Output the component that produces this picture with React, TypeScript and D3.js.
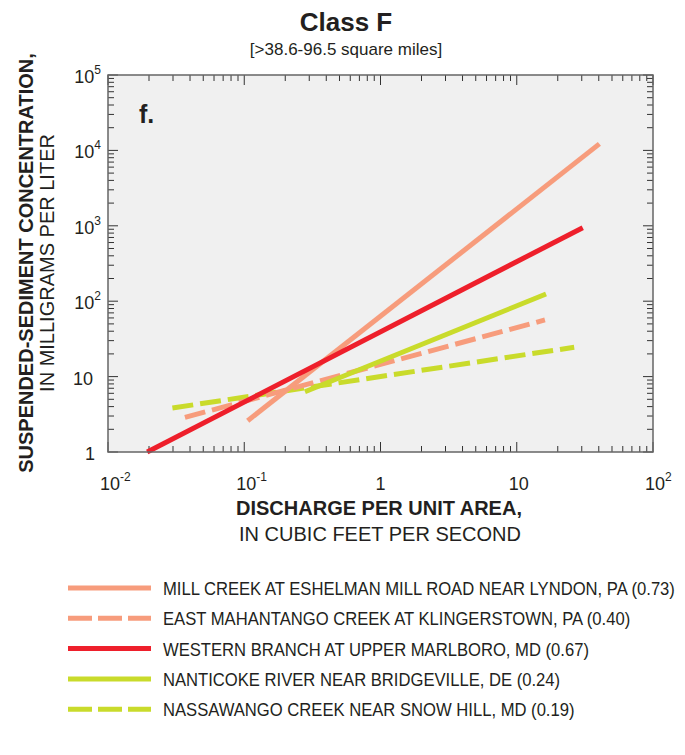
import React from "react";
import * as d3 from "d3";

const seriesNames = [
  "MILL CREEK AT ESHELMAN MILL ROAD NEAR LYNDON, PA (0.73)",
  "EAST MAHANTANGO CREEK AT KLINGERSTOWN, PA (0.40)",
  "WESTERN BRANCH AT UPPER MARLBORO, MD (0.67)",
  "NANTICOKE RIVER NEAR BRIDGEVILLE, DE (0.24)",
  "NASSAWANGO CREEK NEAR SNOW HILL, MD (0.19)",
];
const seriesColors = ["#F79C7C", "#F79C7C", "#EE1F2B", "#C9DB2B", "#C9DB2B"];
const seriesDashed = [false, true, false, false, true];
const xStart = [0.106, 0.0367, 0.0194, 0.279, 0.0297];
const xEnd = [40.4, 16.1, 30.5, 16.4, 26.4];
const yStart = [2.6, 2.88, 1.0, 6.3, 3.83];
const yEnd = [12200, 56.4, 944, 124.6, 24.5];
const plotOrder = [4, 1, 3, 0, 2];

const xDecades = [-2, -1, 0, 1, 2];
const yDecades = [0, 1, 2, 3, 4, 5];

const W = 685;
const H = 755;
const left = 108;
const right = 653;
const top = 75;
const bottom = 452;

const FONT = "'Liberation Sans', Arial, Helvetica, sans-serif";
const INK = "#231f20";

function YLabel({ exp, x, y }: { exp: number; x: number; y: number }) {
  if (exp === 0)
    return <text x={x - 6} y={y} textAnchor="end" fontSize={18} fontFamily={FONT}>1</text>;
  if (exp === 1)
    return <text x={x - 8} y={y} textAnchor="end" fontSize={18} fontFamily={FONT}>10</text>;
  return (
    <text x={x} y={y} textAnchor="end" fontSize={18} fontFamily={FONT}>
      10<tspan dy={-9} fontSize={12}>{exp}</tspan>
    </text>
  );
}

function XLabel({ exp, x, y }: { exp: number; x: number; y: number }) {
  if (exp === 0)
    return <text x={x} y={y} textAnchor="middle" fontSize={18} fontFamily={FONT}>1</text>;
  if (exp === 1)
    return <text x={x + 2} y={y} textAnchor="middle" fontSize={18} fontFamily={FONT}>10</text>;
  return (
    <text x={x - 8} y={y} textAnchor="start" fontSize={18} fontFamily={FONT}>
      10<tspan dy={-9} fontSize={12}>{exp}</tspan>
    </text>
  );
}

export default function App() {
  const x = d3.scaleLog().domain([0.01, 100]).range([left, right]);
  const y = d3.scaleLog().domain([1, 100000]).range([bottom, top]);
  const line = d3
    .line<[number, number]>()
    .x((d) => x(d[0]))
    .y((d) => y(d[1]));

  const xMinor: number[] = [];
  for (let e = -2; e < 2; e++) for (let m = 2; m <= 9; m++) xMinor.push(m * Math.pow(10, e));
  const yMinor: number[] = [];
  for (let e = 0; e < 5; e++) for (let m = 2; m <= 9; m++) yMinor.push(m * Math.pow(10, e));

  const tickColor = "#333";
  const major = 10;
  const minor = 6;

  return (
    <svg width={W} height={H} style={{ position: "absolute", left: 0, top: 0, background: "#fff" }}>
      <text x={346} y={31} textAnchor="middle" fontSize={26} fontWeight="bold" fontFamily={FONT} fill={INK}>
        Class F
      </text>
      <text x={346} y={55} textAnchor="middle" fontSize={17} fontFamily={FONT} fill={INK}>
        [&gt;38.6-96.5 square miles]
      </text>

      <rect x={left} y={top} width={right - left} height={bottom - top} fill="#F0F0F0" />

      <g stroke={tickColor} strokeWidth={1}>
        {xMinor.map((v, i) => (
          <g key={"xm" + i}>
            <line x1={x(v)} x2={x(v)} y1={bottom} y2={bottom - minor} />
            <line x1={x(v)} x2={x(v)} y1={top} y2={top + minor} />
          </g>
        ))}
        {xDecades.map((e) => (
          <g key={"xM" + e}>
            <line x1={x(Math.pow(10, e))} x2={x(Math.pow(10, e))} y1={bottom} y2={bottom - major} />
            <line x1={x(Math.pow(10, e))} x2={x(Math.pow(10, e))} y1={top} y2={top + major} />
          </g>
        ))}
        {yMinor.map((v, i) => (
          <g key={"ym" + i}>
            <line x1={left} x2={left + minor} y1={y(v)} y2={y(v)} />
            <line x1={right} x2={right - minor} y1={y(v)} y2={y(v)} />
          </g>
        ))}
        {yDecades.map((e) => (
          <g key={"yM" + e}>
            <line x1={left} x2={left + major} y1={y(Math.pow(10, e))} y2={y(Math.pow(10, e))} />
            <line x1={right} x2={right - major} y1={y(Math.pow(10, e))} y2={y(Math.pow(10, e))} />
          </g>
        ))}
      </g>

      <text x={139} y={123} fontSize={25} fontWeight="bold" fontFamily={FONT} fill={INK}>
        f.
      </text>

      {plotOrder.map((i) => (
        <path
          key={"s" + i}
          d={
            line([
              [xStart[i], yStart[i]],
              [xEnd[i], yEnd[i]],
            ]) || ""
          }
          stroke={seriesColors[i]}
          strokeWidth={5}
          fill="none"
          strokeDasharray={seriesDashed[i] ? "21 7" : undefined}
        />
      ))}

      <rect x={left} y={top} width={right - left} height={bottom - top} fill="none" stroke="#666" strokeWidth={1.5} />

      <g fill={INK}>
        {yDecades.map((e) => (
          <YLabel key={"yl" + e} exp={e} x={101} y={y(Math.pow(10, e)) + 8} />
        ))}
        {xDecades.map((e) => (
          <XLabel key={"xl" + e} exp={e} x={x(Math.pow(10, e))} y={490} />
        ))}
      </g>

      <text x={379} y={515} textAnchor="middle" fontSize={20} fontWeight="bold" fontFamily={FONT} fill={INK}>
        DISCHARGE PER UNIT AREA,
      </text>
      <text x={380} y={541} textAnchor="middle" fontSize={20} fontFamily={FONT} fill={INK}>
        IN CUBIC FEET PER SECOND
      </text>
      <g transform="translate(33,263) rotate(-90)">
        <text x={0} y={0} textAnchor="middle" fontSize={20} fontWeight="bold" fontFamily={FONT} fill={INK}>
          SUSPENDED-SEDIMENT CONCENTRATION,
        </text>
      </g>
      <g transform="translate(54,263) rotate(-90)">
        <text x={0} y={0} textAnchor="middle" fontSize={20} fontFamily={FONT} fill={INK}>
          IN MILLIGRAMS PER LITER
        </text>
      </g>

      {seriesNames.map((name, i) => {
        const ly = 588 + i * 30.3;
        return (
          <g key={"lg" + i}>
            <line
              x1={68}
              x2={151}
              y1={ly}
              y2={ly}
              stroke={seriesColors[i]}
              strokeWidth={5}
              strokeDasharray={seriesDashed[i] ? "24 6" : undefined}
            />
            <text
              transform={`translate(163,${ly + 7}) scale(0.875,1)`}
              fontSize={19}
              fontFamily={FONT}
              fill={INK}
            >
              {name}
            </text>
          </g>
        );
      })}
    </svg>
  );
}
